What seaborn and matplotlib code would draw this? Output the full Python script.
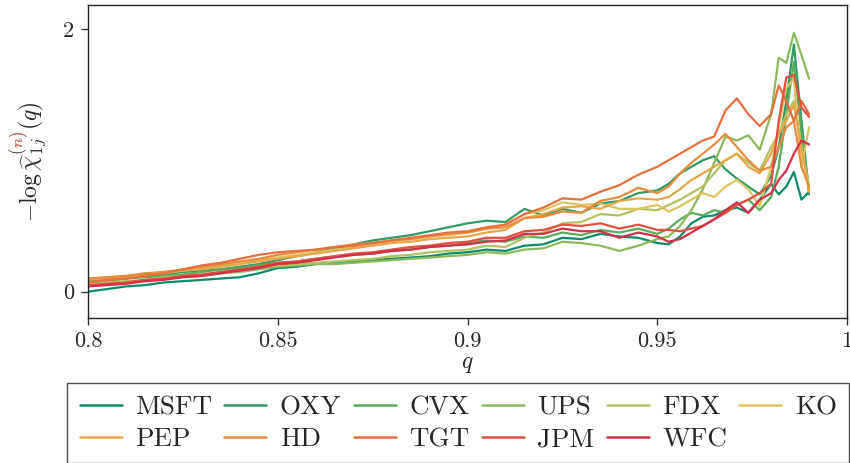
import numpy as np
import pandas as pd
import matplotlib
matplotlib.use("Agg")
import matplotlib.pyplot as plt
import seaborn as sns
from matplotlib.transforms import Bbox, IdentityTransform, TransformedBbox

# quantile levels
q = [0.800, 0.805, 0.810, 0.815, 0.820, 0.825, 0.830, 0.835, 0.840, 0.845,
     0.850, 0.855, 0.860, 0.865, 0.870, 0.875, 0.880, 0.885, 0.890, 0.895,
     0.900, 0.905, 0.910, 0.915, 0.920, 0.925, 0.930, 0.935, 0.940, 0.945,
     0.950, 0.953, 0.956, 0.959, 0.962, 0.965, 0.968, 0.971, 0.974, 0.977,
     0.980, 0.982, 0.984, 0.986, 0.988, 0.990]

stocks = ["MSFT", "OXY", "CVX", "UPS", "FDX", "KO", "PEP", "HD", "TGT", "JPM", "WFC"]

MSFT = [0.00, 0.02, 0.04, 0.05, 0.07, 0.08, 0.09, 0.10, 0.11, 0.14, 0.18, 0.19, 0.21, 0.22, 0.23, 0.24,
        0.25, 0.26, 0.27, 0.29, 0.30, 0.32, 0.31, 0.35, 0.36, 0.41, 0.40, 0.44, 0.42, 0.41, 0.37,
        0.36, 0.42, 0.52, 0.57, 0.58, 0.62, 0.64, 0.60, 0.70, 0.82, 0.74, 0.80, 0.91, 0.70, 0.76]
OXY = [0.08, 0.09, 0.10, 0.12, 0.13, 0.15, 0.16, 0.17, 0.19, 0.21, 0.24, 0.27, 0.30, 0.33, 0.36, 0.39,
       0.41, 0.43, 0.46, 0.49, 0.52, 0.54, 0.53, 0.63, 0.58, 0.63, 0.60, 0.67, 0.69, 0.75, 0.77,
       0.82, 0.90, 0.95, 1.00, 1.03, 0.93, 0.86, 0.80, 0.74, 0.88, 1.10, 1.45, 1.88, 1.30, 0.74]
CVX = [0.07, 0.08, 0.10, 0.11, 0.12, 0.13, 0.15, 0.17, 0.18, 0.20, 0.22, 0.23, 0.25, 0.27, 0.28, 0.29,
       0.31, 0.32, 0.34, 0.35, 0.37, 0.39, 0.38, 0.42, 0.41, 0.45, 0.43, 0.47, 0.45, 0.48, 0.44,
       0.48, 0.55, 0.60, 0.58, 0.62, 0.60, 0.66, 0.70, 0.62, 0.72, 0.95, 1.35, 1.75, 1.20, 0.78]
UPS = [0.05, 0.06, 0.07, 0.08, 0.10, 0.11, 0.12, 0.14, 0.15, 0.17, 0.19, 0.20, 0.21, 0.21, 0.22, 0.23,
       0.24, 0.25, 0.26, 0.27, 0.28, 0.30, 0.29, 0.32, 0.33, 0.38, 0.37, 0.35, 0.31, 0.35, 0.40,
       0.42, 0.50, 0.62, 0.78, 0.98, 1.18, 1.15, 1.19, 1.08, 1.35, 1.78, 1.74, 1.97, 1.80, 1.62]
FDX = [0.06, 0.07, 0.08, 0.09, 0.11, 0.12, 0.13, 0.15, 0.16, 0.18, 0.20, 0.21, 0.22, 0.23, 0.24, 0.25,
       0.27, 0.28, 0.30, 0.31, 0.32, 0.35, 0.34, 0.41, 0.45, 0.52, 0.53, 0.59, 0.58, 0.63, 0.62,
       0.66, 0.70, 0.75, 0.80, 0.90, 1.00, 1.05, 0.98, 0.92, 1.10, 1.20, 1.35, 1.45, 1.10, 0.80]
KO = [0.10, 0.11, 0.12, 0.13, 0.15, 0.16, 0.18, 0.20, 0.22, 0.24, 0.26, 0.28, 0.30, 0.32, 0.34, 0.36,
      0.38, 0.40, 0.42, 0.43, 0.45, 0.48, 0.51, 0.59, 0.62, 0.68, 0.66, 0.67, 0.63, 0.63, 0.66,
      0.61, 0.65, 0.70, 0.75, 0.72, 0.80, 0.85, 0.78, 0.65, 0.95, 1.25, 1.55, 1.62, 0.95, 1.25]
PEP = [0.09, 0.10, 0.11, 0.13, 0.14, 0.16, 0.17, 0.19, 0.21, 0.23, 0.25, 0.27, 0.29, 0.31, 0.33, 0.35,
       0.37, 0.38, 0.40, 0.41, 0.42, 0.45, 0.47, 0.56, 0.59, 0.64, 0.65, 0.63, 0.69, 0.71, 0.70,
       0.72, 0.78, 0.85, 0.90, 0.95, 1.00, 1.05, 0.95, 0.90, 1.05, 1.20, 1.30, 1.42, 1.10, 0.76]
HD = [0.10, 0.11, 0.12, 0.14, 0.15, 0.17, 0.19, 0.21, 0.23, 0.25, 0.28, 0.30, 0.32, 0.34, 0.36, 0.37,
      0.39, 0.40, 0.42, 0.44, 0.45, 0.48, 0.49, 0.56, 0.57, 0.61, 0.60, 0.69, 0.72, 0.79, 0.75,
      0.80, 0.90, 0.98, 1.05, 1.12, 1.20, 1.10, 1.00, 0.92, 0.95, 1.10, 1.25, 1.30, 0.95, 0.80]
TGT = [0.07, 0.09, 0.10, 0.12, 0.14, 0.17, 0.20, 0.22, 0.25, 0.28, 0.30, 0.31, 0.32, 0.34, 0.35, 0.37,
       0.39, 0.41, 0.43, 0.45, 0.46, 0.49, 0.51, 0.59, 0.64, 0.71, 0.70, 0.76, 0.81, 0.89, 0.95,
       1.00, 1.05, 1.10, 1.15, 1.18, 1.38, 1.47, 1.35, 1.26, 1.35, 1.57, 1.45, 1.30, 1.45, 1.35]
JPM = [0.05, 0.06, 0.07, 0.09, 0.10, 0.12, 0.13, 0.15, 0.17, 0.19, 0.22, 0.23, 0.25, 0.27, 0.29, 0.30,
       0.32, 0.34, 0.35, 0.37, 0.38, 0.41, 0.41, 0.46, 0.47, 0.51, 0.50, 0.52, 0.48, 0.51, 0.47,
       0.47, 0.46, 0.48, 0.50, 0.55, 0.60, 0.66, 0.70, 0.75, 0.82, 1.30, 1.63, 1.65, 1.40, 1.33]
WFC = [0.04, 0.05, 0.06, 0.08, 0.09, 0.11, 0.12, 0.14, 0.16, 0.18, 0.21, 0.22, 0.24, 0.26, 0.28, 0.29,
       0.31, 0.32, 0.34, 0.35, 0.36, 0.38, 0.39, 0.44, 0.44, 0.48, 0.46, 0.46, 0.41, 0.45, 0.42,
       0.38, 0.40, 0.45, 0.50, 0.55, 0.62, 0.68, 0.60, 0.70, 0.75, 0.85, 0.92, 1.05, 1.15, 1.12]

colors = ["#0e8a6b", "#2f9a62", "#5aab5c", "#8cb95b", "#b2c262", "#dcc45f",
          "#e8a64a", "#e98b3f", "#e8703f", "#e0513f", "#d5304a"]

x_ticks = [0.8, 0.85, 0.9, 0.95, 1.0]
x_tick_labels = ["0.8", "0.85", "0.9", "0.95", "1"]
y_ticks = [0, 2]
y_tick_labels = ["0", "2"]

series = dict(zip(stocks, [MSFT, OXY, CVX, UPS, FDX, KO, PEP, HD, TGT, JPM, WFC]))
df = pd.concat(
    [pd.DataFrame({"q": q, "value": v, "stock": s}) for s, v in series.items()],
    ignore_index=True,
)

sns.set_style("ticks")
plt.rcParams["font.family"] = ["cmr10", "DejaVu Serif"]
plt.rcParams["mathtext.fontset"] = "cm"
plt.rcParams["axes.formatter.use_mathtext"] = True
plt.rcParams["axes.unicode_minus"] = False

fig = plt.figure(figsize=(8.5, 4.63), dpi=100)
ax = fig.add_axes([0.1035, 0.3132, 0.8930, 0.6758])

sns.lineplot(data=df, x="q", y="value", hue="stock", hue_order=stocks,
             palette=colors, linewidth=1.6, ax=ax, legend=False, sort=False)

ax.set_xlim(0.8, 1.0)
ax.set_ylim(-0.2, 2.18)
ax.set_xticks(x_ticks)
ax.set_xticklabels(x_tick_labels)
ax.set_yticks(y_ticks)
ax.set_yticklabels(y_tick_labels)
ax.tick_params(axis="both", direction="out", length=5, width=1, labelsize=16,
               color="#333333", pad=5)
for sp in ax.spines.values():
    sp.set_visible(True)
    sp.set_color("#222222")
    sp.set_linewidth(1.0)

ax.set_xlabel(r"$q$", fontsize=17, labelpad=1)
ylabel_text = r"$-\log\widehat{\chi}_{1j}^{(n)}(q)$"
ax.set_ylabel(ylabel_text, fontsize=17, labelpad=10)

# legend entries laid out row by row (6 per row)
ncol = 6
nrow = int(np.ceil(len(stocks) / ncol))
order = [r * ncol + c for c in range(ncol) for r in range(nrow) if r * ncol + c < len(stocks)]
handles = [plt.Line2D([], [], color=colors[i], linewidth=1.8) for i in order]
labels = [stocks[i] for i in order]
leg = fig.legend(handles, labels, loc="upper center", bbox_to_anchor=(0.539, 0.173),
                 ncol=ncol, fontsize=19.5, frameon=True, fancybox=False, edgecolor="#222222",
                 handlelength=1.55, handletextpad=0.5, columnspacing=0.45,
                 labelspacing=0.3, borderpad=0.45, borderaxespad=0.0)
leg.get_frame().set_linewidth(1.0)

# tint the superscript (n) of the y label
fig.canvas.draw()
renderer = fig.canvas.get_renderer()
ylab = ax.yaxis.label
bb = ylab.get_window_extent(renderer)


def text_width(s):
    t = fig.text(0, 0, s, fontsize=17)
    w = t.get_window_extent(renderer).width
    t.remove()
    return w


w_head = text_width(r"$-\log\widehat{\chi}$")
w_sup = text_width(r"$-\log\widehat{\chi}^{(n)}$") - w_head
y_start = bb.y0 + w_head
y_end = y_start + w_sup + 1
x_cut = bb.x0 + 0.42 * bb.width
clip = TransformedBbox(Bbox([[bb.x0 - 5, y_start], [x_cut, y_end]]), IdentityTransform())

overlay = fig.text(0, 0, ylabel_text, fontsize=17, color="#f07a60", rotation=90,
                   ha=ylab.get_ha(), va=ylab.get_va(), rotation_mode=ylab.get_rotation_mode())
overlay.set_transform(ylab.get_transform())
overlay.set_position(ylab.get_position())
overlay.set_clip_box(clip)
overlay.set_clip_on(True)

fig.savefig("out.png", dpi=100)
